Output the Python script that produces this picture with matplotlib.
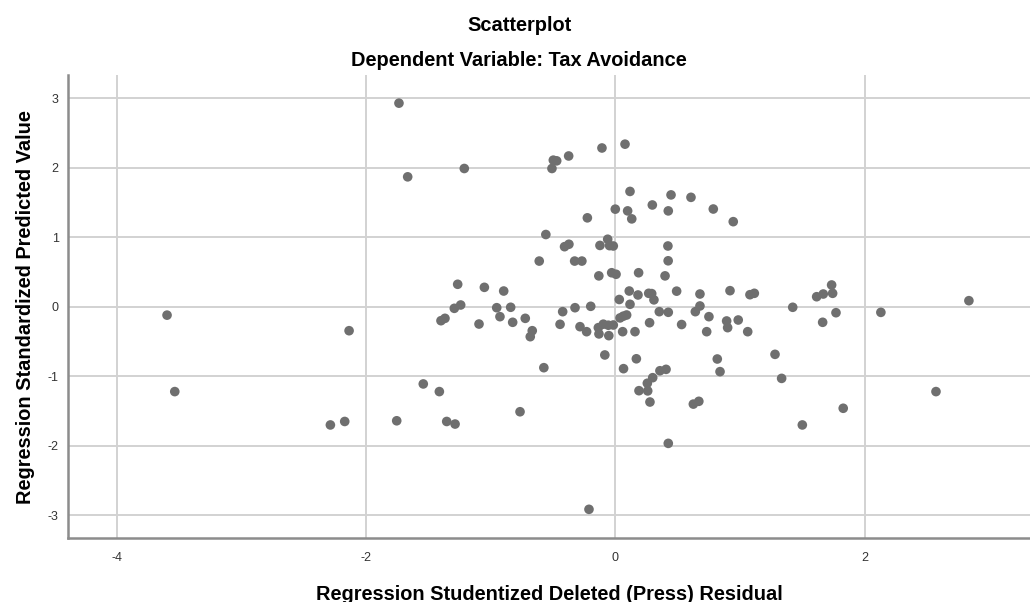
import matplotlib
matplotlib.use("Agg")
import matplotlib.pyplot as plt

plt.rcParams["font.family"] = ["Liberation Sans", "DejaVu Sans"]
plt.rcParams["axes.unicode_minus"] = False

# Studentized deleted residuals (x) and standardized predicted values (y)
press_residual = [
    -3.595, -3.533, -2.135, -2.285, -2.17, -1.735, -1.665, -1.211, -0.497, -0.47,
    -0.508, -0.374, -0.107, 0.078, 0.118, 0.447, 0.607, 0.297, 0.0, 0.099,
    0.132, 0.425, -0.224, -0.557, -0.407, -0.372, -0.123, -0.061, -0.046, -0.016,
    0.422, 0.424, -0.61, -0.326, -0.268, -0.132, -0.029, 0.006, 0.187, 0.399,
    0.786, 0.946, 0.292, 0.492, 0.679, 0.92, 1.08, 1.115, 1.615, 1.668,
    1.743, 1.735, -1.264, -1.05, -0.895, 0.112, 0.182, 0.268, 0.032, -1.398,
    -1.366, -1.291, -1.24, -1.093, -0.951, -0.925, -0.839, -0.823, -0.722, -0.666,
    -0.682, -0.573, -0.443, -0.422, -0.323, -0.197, -0.283, -0.23, -0.136, -0.131,
    -0.096, -0.056, -0.016, -0.052, -0.084, 0.118, 0.038, 0.064, 0.091, 0.059,
    0.158, 0.066, 0.169, 0.275, 0.353, 0.425, 0.532, 0.31, 0.642, 0.679,
    0.751, 0.893, 0.901, 0.986, 0.733, 1.062, 0.818, 0.84, 1.281, 1.334,
    1.828, 1.5, 0.626, 0.67, 0.425, 0.19, 0.257, 0.26, 0.3, 0.358,
    0.407, 0.278, 1.423, 1.77, 1.663, 2.13, 2.836, 2.572, -0.211, -1.54,
    -1.411, -1.753, -1.352, -1.285, -0.764,
]
predicted_value = [
    -0.12, -1.22, -0.344, -1.70, -1.65, 2.93, 1.87, 1.99, 2.11, 2.10,
    1.99, 2.17, 2.285, 2.34, 1.66, 1.61, 1.575, 1.465, 1.405, 1.38,
    1.265, 1.38, 1.28, 1.04, 0.865, 0.90, 0.883, 0.972, 0.88, 0.875,
    0.875, 0.662, 0.658, 0.658, 0.658, 0.445, 0.49, 0.468, 0.49, 0.445,
    1.407, 1.225, 0.19, 0.225, 0.184, 0.232, 0.174, 0.194, 0.145, 0.184,
    0.194, 0.314, 0.324, 0.28, 0.227, 0.227, 0.17, 0.194, 0.105, -0.2,
    -0.166, -0.022, 0.026, -0.248, -0.013, -0.142, -0.007, -0.223, -0.166, -0.344,
    -0.43, -0.876, -0.252, -0.07, -0.013, 0.007, -0.286, -0.358, -0.3, -0.39,
    -0.25, -0.265, -0.262, -0.415, -0.693, 0.036, -0.16, -0.135, -0.118, -0.358,
    -0.358, -0.89, -0.748, -0.229, -0.07, -0.079, -0.255, 0.1, -0.07, 0.012,
    -0.142, -0.204, -0.3, -0.19, -0.358, -0.358, -0.751, -0.933, -0.684, -1.03,
    -1.46, -1.70, -1.40, -1.36, -1.965, -1.207, -1.10, -1.21, -1.02, -0.92,
    -0.90, -1.37, -0.007, -0.085, -0.223, -0.08, 0.088, -1.22, -2.914, -1.11,
    -1.22, -1.64, -1.65, -1.687, -1.51,
]

x_ticks = [-4, -2, 0, 2]
y_ticks = [-3, -2, -1, 0, 1, 2, 3]

fig = plt.figure(figsize=(10.30, 6.02), dpi=100)
ax = fig.add_axes([0.0663, 0.1058, 0.9337, 0.7696])

ax.scatter(press_residual, predicted_value, s=48, color="#6f6f6f",
           edgecolors="none", zorder=3)

ax.set_xlim(-4.387, 3.326)
ax.set_ylim(-3.331, 3.335)
ax.set_xticks(x_ticks)
ax.set_yticks(y_ticks)
ax.grid(True, color="#d2d2d2", linewidth=1.4, zorder=0)
ax.set_axisbelow(True)

for side in ("top", "right"):
    ax.spines[side].set_visible(False)
for side in ("left", "bottom"):
    ax.spines[side].set_color("#8c8c8c")
    ax.spines[side].set_linewidth(1.8)

ax.tick_params(length=0, labelsize=9, colors="#333333")
ax.tick_params(axis="y", pad=7)
ax.tick_params(axis="x", pad=10)

ax.set_xlabel("Regression Studentized Deleted (Press) Residual",
              fontsize=14.4, fontweight="bold", labelpad=15)
ax.set_ylabel("Regression Standardized Predicted Value",
              fontsize=14.4, fontweight="bold", labelpad=9)

fig.text(0.504, 0.958, "Scatterplot", ha="center", va="center",
         fontsize=14.4, fontweight="bold")
fig.text(0.504, 0.900, "Dependent Variable: Tax Avoidance", ha="center",
         va="center", fontsize=14.4, fontweight="bold")

fig.savefig("out.png", dpi=100)
